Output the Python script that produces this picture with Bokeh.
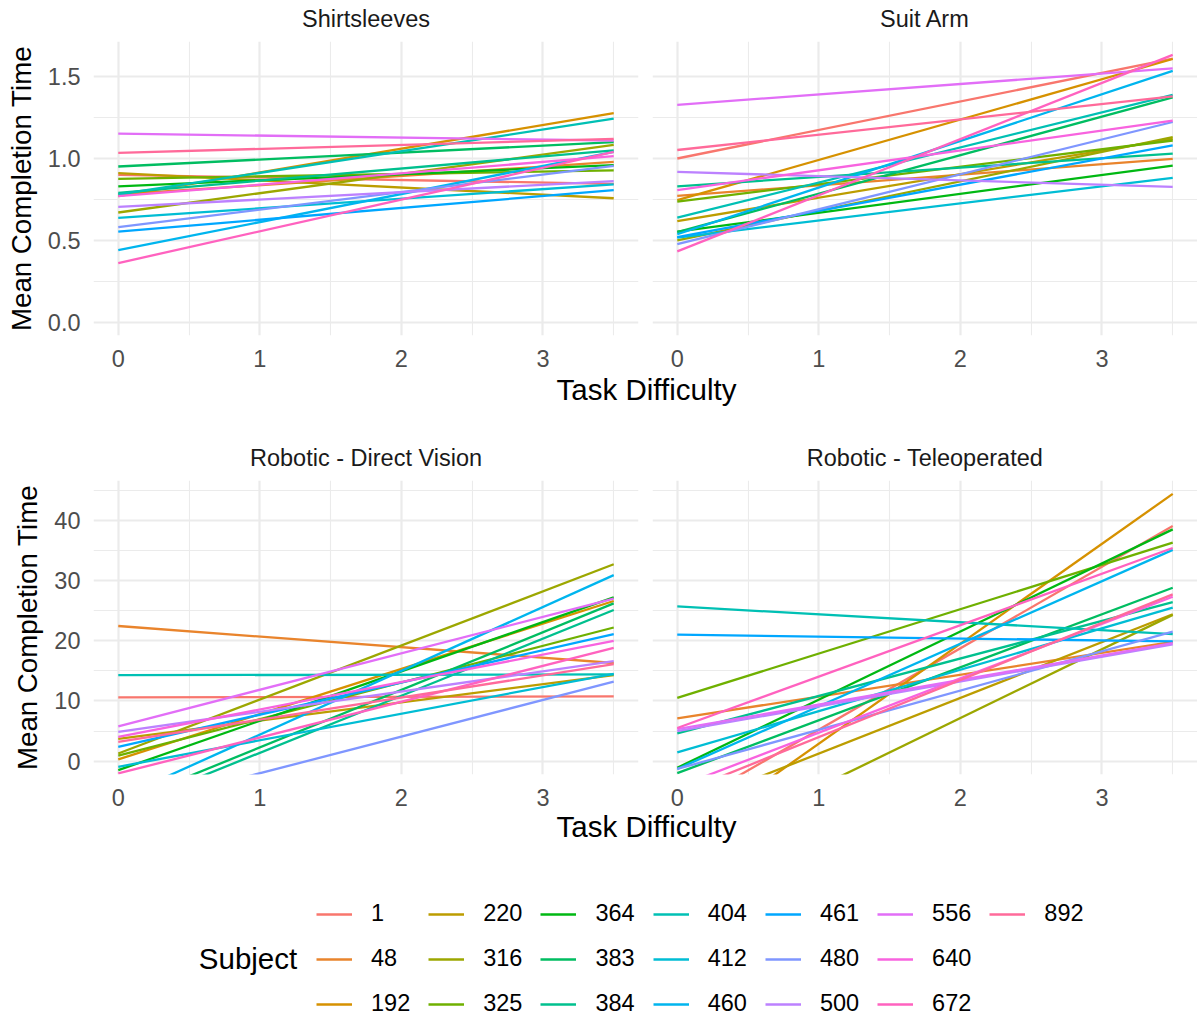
import math
import numpy as np
from bokeh.plotting import figure
from bokeh.models import Range1d, FixedTicker, PrintfTickFormatter, Label, Legend, LegendItem
from bokeh.layouts import column, row
from bokeh.embed import file_html
from bokeh.resources import INLINE

# ---------------- data ----------------
subjects = ["1", "48", "192", "220", "316", "325", "364", "383", "384", "404",
            "412", "460", "461", "480", "500", "556", "640", "672", "892"]
x_ends = [0.0, 3.5]

panel_titles = ["Shirtsleeves", "Suit Arm", "Robotic - Direct Vision", "Robotic - Teleoperated"]

# fitted mean completion time at x = 0 and x = 3.5, one value per subject (order of `subjects`)
shirt_start = [0.90, 0.78, 0.77, 0.91, 0.67, 0.876, 0.83, 0.951, 0.79, 0.78,
               0.637, 0.44, 0.553, 0.58, 0.704, 1.152, 0.77, 0.361, 1.034]
shirt_end = [0.845, 0.979, 1.277, 0.757, 1.083, 0.927, 0.959, 1.10, 1.05, 1.243,
             0.842, 1.04, 0.807, 0.955, 0.862, 1.11, 1.014, 1.04, 1.12]

suit_start = [1.0, 0.771, 0.745, 0.617, 0.50, 0.737, 0.553, 0.55, 0.83, 0.639,
              0.517, 0.537, 0.52, 0.477, 0.918, 1.328, 0.807, 0.432, 1.052]
suit_end = [1.61, 0.998, 1.608, 1.12, 1.13, 1.11, 0.957, 1.373, 1.03, 1.389,
            0.882, 1.535, 1.08, 1.223, 0.827, 1.551, 1.231, 1.633, 1.379]

direct_start = [10.6, 22.45, 0.28, 3.7, 1.27, 0.9, -1.5, -7.3, -8.1, 14.28,
                -0.94, -6.2, 2.37, -8.1, 4.85, 5.79, 4.03, -2.04, 3.2]
direct_end = [10.75, 16.3, 26.6, 14.3, 32.7, 22.2, 27.2, 26.2, 25.1, 14.4,
              14.5, 30.9, 21.1, 13.2, 16.6, 27.0, 19.97, 18.8, 16.1]

tele_start = [-8.3, 7.1, -13.7, -8.0, -15.7, 10.5, -1.1, -2.0, 4.6, 25.7,
              1.44, -1.3, 21.0, -1.3, 5.0, 5.3, -4.3, 5.5, -5.5]
tele_end = [39.05, 19.8, 44.4, 24.4, 24.3, 36.3, 38.5, 28.8, 26.4, 21.1,
            25.5, 35.1, 19.9, 21.5, 19.4, 19.6, 27.3, 35.4, 27.7]

x_ticks = [0, 1, 2, 3]
x_minor = [0.5, 1.5, 2.5, 3.5]
top_y_ticks = [0.0, 0.5, 1.0, 1.5]
top_y_minor = [0.25, 0.75, 1.25]
bot_y_ticks = [0, 10, 20, 30, 40]
bot_y_minor = [5, 15, 25, 35, 45]

# ---------------- style ----------------
FONT = "Liberation Sans"
GRID = "#EBEBEB"
SMALL = "23.5px"
BIG = "29.5px"
YTITLE = "27.7px"


def hcl_hex(h, c=100.0, l=65.0):
    hr = math.radians(h)
    U, V = c * math.cos(hr), c * math.sin(hr)
    Xn, Yn, Zn = 95.047, 100.0, 108.883
    den = Xn + 15 * Yn + 3 * Zn
    un, vn = 4 * Xn / den, 9 * Yn / den
    Y = Yn * ((l + 16) / 116) ** 3 if l > 8 else Yn * l / 903.3
    u = U / (13 * l) + un
    v = V / (13 * l) + vn
    X = 9.0 * Y * u / (4 * v)
    Z = -X / 3 - 5 * Y + 3 * Y / v
    X, Y, Z = X / 100, Y / 100, Z / 100
    r = 3.240479 * X - 1.537150 * Y - 0.498535 * Z
    g = -0.969256 * X + 1.875992 * Y + 0.041556 * Z
    b = 0.055648 * X - 0.204043 * Y + 1.057311 * Z

    def gam(t):
        t = 12.92 * t if t <= 0.0031308 else 1.055 * t ** (1 / 2.4) - 0.055
        return int(round(min(max(t, 0), 1) * 255))
    return "#%02X%02X%02X" % (gam(r), gam(g), gam(b))


n = len(subjects)
colors = [hcl_hex(15 + 360.0 * i / n) for i in range(n)]

FRAME_W, FRAME_H = 545, 294
LEFT_B = 93
GAP_L, GAP_R = 7, 7
TOP_B = 6
TOTAL_W = LEFT_B + FRAME_W + GAP_L + GAP_R + FRAME_W
X_RANGE = (-0.175, 3.675)
LEFT_CENTER = LEFT_B + FRAME_W / 2.0
RIGHT_CENTER = LEFT_B + FRAME_W + GAP_L + GAP_R + FRAME_W / 2.0


def make_panel(starts, ends, yr, yt, ym, fmt, show_y, bot_b):
    p = figure(frame_width=FRAME_W, frame_height=FRAME_H,
               x_range=Range1d(*X_RANGE), y_range=Range1d(*yr),
               toolbar_location=None, output_backend="svg",
               min_border_left=LEFT_B if show_y else GAP_R,
               min_border_right=GAP_L if show_y else 0,
               min_border_top=TOP_B, min_border_bottom=bot_b)
    p.outline_line_color = None
    p.background_fill_color = "white"
    p.border_fill_color = "white"

    xt = FixedTicker(ticks=x_ticks, minor_ticks=x_minor)
    ytk = FixedTicker(ticks=yt, minor_ticks=ym)
    p.xaxis.ticker = xt
    p.yaxis.ticker = ytk
    p.xgrid.ticker = xt
    p.ygrid.ticker = ytk
    for g in (p.xgrid, p.ygrid):
        g.grid_line_color = GRID
        g.grid_line_width = 2.2
        g.minor_grid_line_color = GRID
        g.minor_grid_line_width = 1.1
    for ax in (p.xaxis, p.yaxis):
        ax.axis_line_color = None
        ax.major_tick_line_color = None
        ax.minor_tick_line_color = None
        ax.major_tick_out = 0
        ax.major_tick_in = 0
        ax.minor_tick_out = 0
        ax.major_label_text_font = FONT
        ax.major_label_text_font_size = SMALL
        ax.major_label_text_color = "#4D4D4D"
    p.xaxis.major_label_standoff = 14
    p.yaxis.major_label_standoff = 13
    if fmt:
        p.yaxis.formatter = PrintfTickFormatter(format=fmt)
    if show_y:
        p.yaxis.axis_label = "Mean Completion Time"
        p.yaxis.axis_label_text_font = FONT
        p.yaxis.axis_label_text_font_size = YTITLE
        p.yaxis.axis_label_text_font_style = "normal"
        p.yaxis.axis_label_text_color = "black"
        p.yaxis.axis_label_standoff = 8
    else:
        p.yaxis.visible = False

    for s, c, a, b in zip(subjects, colors, starts, ends):
        p.line(x=x_ends, y=[a, b], line_color=c, line_width=2.3)
    return p


def blank(h):
    f = figure(width=TOTAL_W, height=h, x_range=Range1d(0, TOTAL_W), y_range=Range1d(0, h),
               x_axis_location=None, y_axis_location=None, toolbar_location=None,
               output_backend="svg", min_border=0)
    f.grid.visible = False
    f.outline_line_color = None
    return f


def strip_fig(h, from_top, left_title, right_title):
    f = blank(h)
    for cx, t in ((LEFT_CENTER, left_title), (RIGHT_CENTER, right_title)):
        f.add_layout(Label(x=cx, y=h - from_top, text=t, text_align="center",
                           text_baseline="middle", text_font=FONT,
                           text_font_size=SMALL, text_color="#1A1A1A"))
    return f


def xlabel_fig(h, from_top):
    f = blank(h)
    f.add_layout(Label(x=646, y=h - from_top, text="Task Difficulty",
                       text_align="center", text_baseline="middle",
                       text_font=FONT, text_font_size=BIG, text_color="black"))
    return f


top_range = (-0.0817, 1.715)
bot_range = (-2.22, 46.62)

s1 = strip_fig(41 - TOP_B, 18, panel_titles[0], panel_titles[1])
p1 = make_panel(shirt_start, shirt_end, top_range, top_y_ticks, top_y_minor, "%.1f", True, 37)
p2 = make_panel(suit_start, suit_end, top_range, top_y_ticks, top_y_minor, "%.1f", False, 37)
xl1 = xlabel_fig(68, 17)
s2 = strip_fig(40 - TOP_B, 17.5, panel_titles[2], panel_titles[3])
p3 = make_panel(direct_start, direct_end, bot_range, bot_y_ticks, bot_y_minor, None, True, 37)
p4 = make_panel(tele_start, tele_end, bot_range, bot_y_ticks, bot_y_minor, None, False, 37)
xl2 = xlabel_fig(49, 15)

LEG_H = 157
lf = blank(LEG_H)
items = []
for s, c in zip(subjects, colors):
    r = lf.line(x=np.array([0.0, 1.0]), y=np.array([np.nan, np.nan]), line_color=c, line_width=2.6)
    items.append(LegendItem(label=s, renderers=[r]))
leg = Legend(items=items, location=(316, 0), orientation="vertical", nrows=3,
             glyph_width=36, glyph_height=24, label_height=24, label_width=37,
             label_standoff=19, spacing=18, padding=0, margin=0,
             border_line_color=None, background_fill_alpha=0,
             label_text_font=FONT, label_text_font_size=SMALL, label_text_color="black")
lf.add_layout(leg)
lf.add_layout(Label(x=247.5, y=LEG_H - (958 - 860), text="Subject", text_align="center",
                    text_baseline="middle", text_font=FONT, text_font_size=BIG,
                    text_color="black"))

layout = column(s1, row(p1, p2), xl1, s2, row(p3, p4), xl2, lf, spacing=0)

open("out.html", "w").write(file_html(layout, INLINE))
